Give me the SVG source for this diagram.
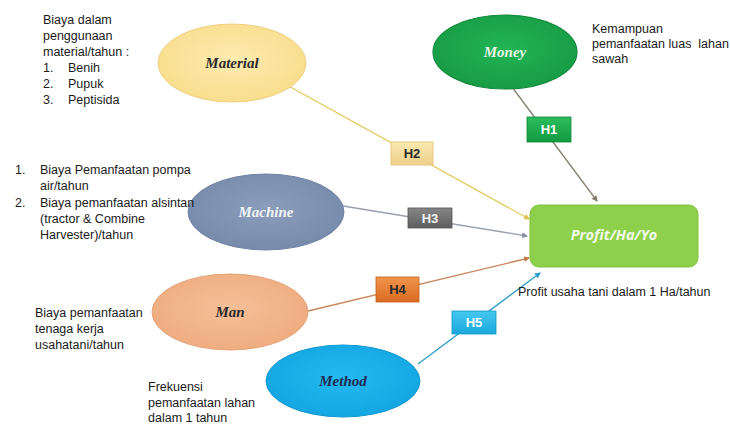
<svg xmlns="http://www.w3.org/2000/svg" width="730" height="426" viewBox="0 0 730 426">
<style>
.t{font-family:"Liberation Sans",Arial,sans-serif;font-size:12.5px;fill:#1a1a1a}
.n{font-family:"Liberation Serif","Times New Roman",serif;font-size:15px;font-weight:bold;font-style:italic;text-anchor:middle}
.h{font-family:"Liberation Sans",Arial,sans-serif;font-size:13px;font-weight:bold;text-anchor:middle}
.c{fill:none;stroke-width:1.3}
</style>
<defs>
<radialGradient id="gMat" cx="0.5" cy="0.45" r="0.6"><stop offset="0" stop-color="#fdebb0"/><stop offset="1" stop-color="#f8dc8a"/></radialGradient>
<radialGradient id="gMon" cx="0.5" cy="0.45" r="0.6"><stop offset="0" stop-color="#22b455"/><stop offset="1" stop-color="#179a45"/></radialGradient>
<radialGradient id="gMac" cx="0.5" cy="0.45" r="0.6"><stop offset="0" stop-color="#8a9dbb"/><stop offset="1" stop-color="#7689aa"/></radialGradient>
<radialGradient id="gMan" cx="0.5" cy="0.45" r="0.6"><stop offset="0" stop-color="#f6bf98"/><stop offset="1" stop-color="#eeab7e"/></radialGradient>
<radialGradient id="gMet" cx="0.5" cy="0.45" r="0.6"><stop offset="0" stop-color="#25b9f0"/><stop offset="1" stop-color="#12a4e0"/></radialGradient>
<linearGradient id="bH1" x1="0" y1="0" x2="0" y2="1"><stop offset="0" stop-color="#2cbd5e"/><stop offset="1" stop-color="#139a40"/></linearGradient>
<linearGradient id="bH2" x1="0" y1="0" x2="0" y2="1"><stop offset="0" stop-color="#fbe9b0"/><stop offset="1" stop-color="#eed089"/></linearGradient>
<linearGradient id="bH3" x1="0" y1="0" x2="0" y2="1"><stop offset="0" stop-color="#858585"/><stop offset="1" stop-color="#5f5f5f"/></linearGradient>
<linearGradient id="bH4" x1="0" y1="0" x2="0" y2="1"><stop offset="0" stop-color="#f1944c"/><stop offset="1" stop-color="#d96b20"/></linearGradient>
<linearGradient id="bH5" x1="0" y1="0" x2="0" y2="1"><stop offset="0" stop-color="#45c8f2"/><stop offset="1" stop-color="#1aa8dc"/></linearGradient>
<marker id="aY" markerWidth="6" markerHeight="6" refX="5" refY="3" orient="auto" markerUnits="userSpaceOnUse"><path d="M0,0 L6,3 L0,6 z" fill="#e2c24f"/></marker>
<marker id="aB" markerWidth="6" markerHeight="6" refX="5" refY="3" orient="auto" markerUnits="userSpaceOnUse"><path d="M0,0 L6,3 L0,6 z" fill="#857a6a"/></marker>
<marker id="aG" markerWidth="6" markerHeight="6" refX="5" refY="3" orient="auto" markerUnits="userSpaceOnUse"><path d="M0,0 L6,3 L0,6 z" fill="#8a90a2"/></marker>
<marker id="aO" markerWidth="6" markerHeight="6" refX="5" refY="3" orient="auto" markerUnits="userSpaceOnUse"><path d="M0,0 L6,3 L0,6 z" fill="#c27c4c"/></marker>
<marker id="aC" markerWidth="6" markerHeight="6" refX="5" refY="3" orient="auto" markerUnits="userSpaceOnUse"><path d="M0,0 L6,3 L0,6 z" fill="#2a9cc8"/></marker>
</defs>
<rect width="730" height="426" fill="#ffffff"/>

<g id="connectors">
<line class="c" x1="285" y1="84" x2="529" y2="219" stroke="#e5c85a" marker-end="url(#aY)"/>
<line class="c" x1="512" y1="87" x2="597" y2="201" stroke="#8a8070" marker-end="url(#aB)"/>
<line class="c" x1="343" y1="206" x2="527" y2="236" stroke="#9aa0b0" marker-end="url(#aG)"/>
<line class="c" x1="304" y1="312" x2="529" y2="258" stroke="#c8865a" marker-end="url(#aO)"/>
<line class="c" x1="418" y1="364" x2="540" y2="273" stroke="#2a9dc8" marker-end="url(#aC)"/>
</g>

<g id="material">
<ellipse cx="232" cy="63" rx="74" ry="39" fill="url(#gMat)" stroke="#efcf7e" stroke-width="1"/>
<text class="n" x="232" y="68" fill="#2a2a2a">Material</text>
</g>

<g id="money">
<ellipse cx="505" cy="52" rx="72" ry="37" fill="url(#gMon)" stroke="#128a3b" stroke-width="1.2"/>
<text class="n" x="505" y="57" fill="#e8f5e8">Money</text>
</g>

<g id="machine">
<ellipse cx="266" cy="212" rx="78" ry="38" fill="url(#gMac)" stroke="#6e82a3" stroke-width="1"/>
<text class="n" x="266" y="217" fill="#f2f4f8">Machine</text>
</g>

<g id="man">
<ellipse cx="230" cy="312" rx="78" ry="38" fill="url(#gMan)" stroke="#e6a274" stroke-width="1"/>
<text class="n" x="230" y="317" fill="#2a2a2a">Man</text>
</g>

<g id="method">
<ellipse cx="343" cy="381" rx="77" ry="36" fill="url(#gMet)" stroke="#0f97cf" stroke-width="1"/>
<text class="n" x="343" y="386" fill="#1f2a55">Method</text>
</g>

<g id="profit">
<rect x="530" y="205" width="168" height="62" rx="9" fill="#8ed04c" stroke="#7fc23e" stroke-width="1"/>
<text x="614" y="240" text-anchor="middle" font-family="'Open Sans','Liberation Sans',sans-serif" font-size="14.5" font-style="italic" font-weight="bold" fill="#f2fbe9">Profit/Ha/Yo</text>
</g>

<g id="h1"><rect x="527" y="117" width="44" height="25" fill="url(#bH1)" stroke="#11853a" stroke-width="0.8"/><text class="h" x="549" y="134" fill="#ffffff">H1</text></g>
<g id="h2"><rect x="391" y="142" width="42" height="23" fill="url(#bH2)" stroke="#e1c070" stroke-width="0.8"/><text class="h" x="412" y="158" fill="#2a2a2a">H2</text></g>
<g id="h3"><rect x="408" y="208" width="44" height="20" fill="url(#bH3)" stroke="#555" stroke-width="0.8"/><text class="h" x="430" y="223" fill="#f2f2f2">H3</text></g>
<g id="h4"><rect x="376" y="277" width="43" height="25" fill="url(#bH4)" stroke="#c55e1c" stroke-width="0.8"/><text class="h" x="397.5" y="294" fill="#2a2a2a">H4</text></g>
<g id="h5"><rect x="452" y="311" width="44" height="23" fill="url(#bH5)" stroke="#1396c8" stroke-width="0.8"/><text class="h" x="474" y="327" fill="#ffffff">H5</text></g>

<g id="text-material">
<text class="t" x="43" y="24">Biaya dalam</text>
<text class="t" x="43" y="40">penggunaan</text>
<text class="t" x="43" y="56">material/tahun :</text>
<text class="t" x="43" y="72">1.</text><text class="t" x="68" y="72">Benih</text>
<text class="t" x="43" y="88">2.</text><text class="t" x="68" y="88">Pupuk</text>
<text class="t" x="43" y="104">3.</text><text class="t" x="68" y="104">Peptisida</text>
</g>

<g id="text-money">
<text class="t" x="592" y="33">Kemampuan</text>
<text class="t" x="592" y="48" xml:space="preserve">pemanfaatan luas  lahan</text>
<text class="t" x="592" y="63">sawah</text>
</g>

<g id="text-machine">
<text class="t" x="15" y="174">1.</text><text class="t" x="40" y="174">Biaya Pemanfaatan pompa</text>
<text class="t" x="40" y="190">air/tahun</text>
<text class="t" x="15" y="207">2.</text><text class="t" x="40" y="207">Biaya pemanfaatan alsintan</text>
<text class="t" x="40" y="223">(tractor &amp; Combine</text>
<text class="t" x="40" y="239">Harvester)/tahun</text>
</g>

<g id="text-man">
<text class="t" x="35" y="317">Biaya pemanfaatan</text>
<text class="t" x="35" y="333">tenaga kerja</text>
<text class="t" x="35" y="349">usahatani/tahun</text>
</g>

<g id="text-method">
<text class="t" x="148" y="391">Frekuensi</text>
<text class="t" x="148" y="407">pemanfaatan lahan</text>
<text class="t" x="148" y="422">dalam 1 tahun</text>
</g>

<g id="text-profit">
<text class="t" x="518" y="296">Profit usaha tani dalam 1 Ha/tahun</text>
</g>
</svg>
